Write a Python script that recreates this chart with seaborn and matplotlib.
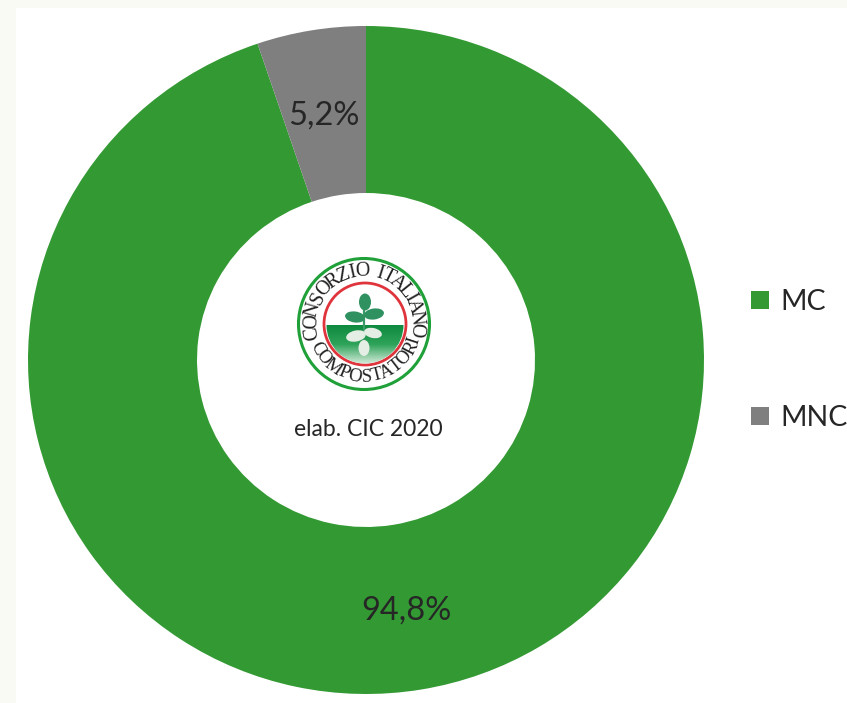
import numpy as np
import matplotlib
matplotlib.use("Agg")
import matplotlib.pyplot as plt
from matplotlib.colors import LinearSegmentedColormap
from matplotlib.patches import Circle, Ellipse, Wedge, Rectangle
import seaborn as sns

W, H = 847, 703

categories = ["MC", "MNC"]
shares = [94.8, 5.2]
slice_colors = ["#339933", "#7F7F7F"]
note = "elab. CIC 2020"
logo_top = "CONSORZIO ITALIANO"
logo_bottom = "COMPOSTATORI"

sns.set_theme(style="white")
plt.rcParams["font.family"] = ["Lato", "DejaVu Sans"]
TEXT = "#262626"
LETTER_W = {"I": 0.6, " ": 0.7, "M": 1.35, "O": 1.1, "T": 0.95, "L": 0.9, "P": 0.95}


def arc_text(ax, s, cx, cy, r, a0, a1, top=True, **kw):
    # one letter at a time round the ring, angles in degrees ccw from +x
    w = np.array([LETTER_W.get(c, 1.0) for c in s])
    pos = np.cumsum(w) - w / 2
    pos = (pos - pos[0]) / (pos[-1] - pos[0])
    for ch, f in zip(s, pos):
        a = a0 + (a1 - a0) * f
        t = np.deg2rad(a)
        rot = a - 90 if top else a + 90
        ax.text(cx + r * np.cos(t), cy - r * np.sin(t), ch, rotation=rot,
                ha="center", va="center", rotation_mode="anchor", **kw)


def leaf(ax, x, y, w, h, angle, color):
    ax.add_patch(Ellipse((x, y), w, h, angle=angle, fc=color, ec="none", zorder=6))


fig = plt.figure(figsize=(W / 100, H / 100), dpi=100, facecolor="#FAFAF5")

# page background sits in a pixel-sized layer
bg = fig.add_axes([0, 0, 1, 1], zorder=0)
bg.set_xlim(0, W)
bg.set_ylim(H, 0)
bg.axis("off")
bg.add_patch(Rectangle((16, 8), W - 16, H - 8, fc="white", ec="none"))

# donut
cx, cy, rx, ry = 366, 360, 338, 334
ax = fig.add_axes([(cx - rx) / W, 1 - (cy + ry) / H, 2 * rx / W, 2 * ry / H], zorder=1)
wedges, _, autotexts = ax.pie(
    shares,
    colors=slice_colors,
    startangle=90,
    counterclock=False,
    radius=1,
    wedgeprops={"width": 0.5, "linewidth": 0},
    autopct=lambda p: f"{p:.1f}%".replace(".", ","),
    pctdistance=0.75,
    textprops={"fontsize": 23.5, "color": TEXT},
)
ax.set_aspect("auto")
ax.set_xlim(-1, 1)
ax.set_ylim(-1, 1)
# labels sit a few pixels lower than the pie centres them
for t in autotexts:
    x, y = t.get_position()
    t.set_position((x - 0.003, y - 0.009))

fig.legend(
    wedges,
    categories,
    loc="center left",
    bbox_to_anchor=(751 / W, 1 - 360 / H),
    frameon=False,
    fontsize=20.5,
    labelcolor=TEXT,
    handlelength=0.63,
    handleheight=0.63,
    handletextpad=0.39,
    labelspacing=3.17,
    borderpad=0,
    borderaxespad=0,
)

# logo drawn on top of the hole
top = fig.add_axes([0, 0, 1, 1], zorder=2)
top.patch.set_alpha(0)
top.axis("off")

lx, ly = 364, 324
top.add_patch(Circle((lx, ly), 65.5, fc="white", ec="#1FA038", lw=2.2, zorder=3))
top.add_patch(Circle((lx + 1, ly), 41, fc="white", ec="#E0343C", lw=2, zorder=3))

# ground in the inner disc fades from dark green to pale (y axis is flipped here)
ground = Wedge((lx + 1, ly + 1), 38.5, 0, 180, fc="none", ec="none", zorder=4)
top.add_patch(ground)
fade = LinearSegmentedColormap.from_list("fade", ["#0E8A3E", "#2FA35A", "#D5EBDB"])
img = top.imshow(np.linspace(0, 1, 64)[:, None], cmap=fade, aspect="auto",
                 extent=(lx - 40, lx + 42, ly + 40, ly + 1), origin="upper", zorder=4)
img.set_clip_path(ground)
top.set_xlim(0, W)
top.set_ylim(H, 0)

top.plot([364, 364], [307, 350], color="#3C9A66", lw=1.6, zorder=5)
for px, py, w, h, ang, c in [
    (365, 302, 12, 17, 0, "#2F9160"),
    (355, 317, 20, 11, 8, "#2F9160"),
    (374, 314, 20, 11, -8, "#2F9160"),
    (356, 336, 20, 11, -12, "#E4EEE4"),
    (373, 333, 18, 10, 12, "#E4EEE4"),
    (364, 348, 11, 16, 0, "#E4EEE4"),
]:
    leaf(top, px, py, w, h, ang, c)

arc_text(top, logo_top, lx, ly, 52.5, 190, -6, top=True, family="Liberation Serif",
         fontsize=14.5, color="#222222", zorder=7)
arc_text(top, logo_bottom, lx, ly, 53, 207, 342, top=False, family="Liberation Serif",
         fontsize=13.5, color="#222222", zorder=7)

top.text(368, 430, note, ha="center", va="center", fontsize=16.5, color=TEXT, zorder=7)

fig.savefig("out.png", dpi=100, facecolor=fig.get_facecolor())
plt.close(fig)
